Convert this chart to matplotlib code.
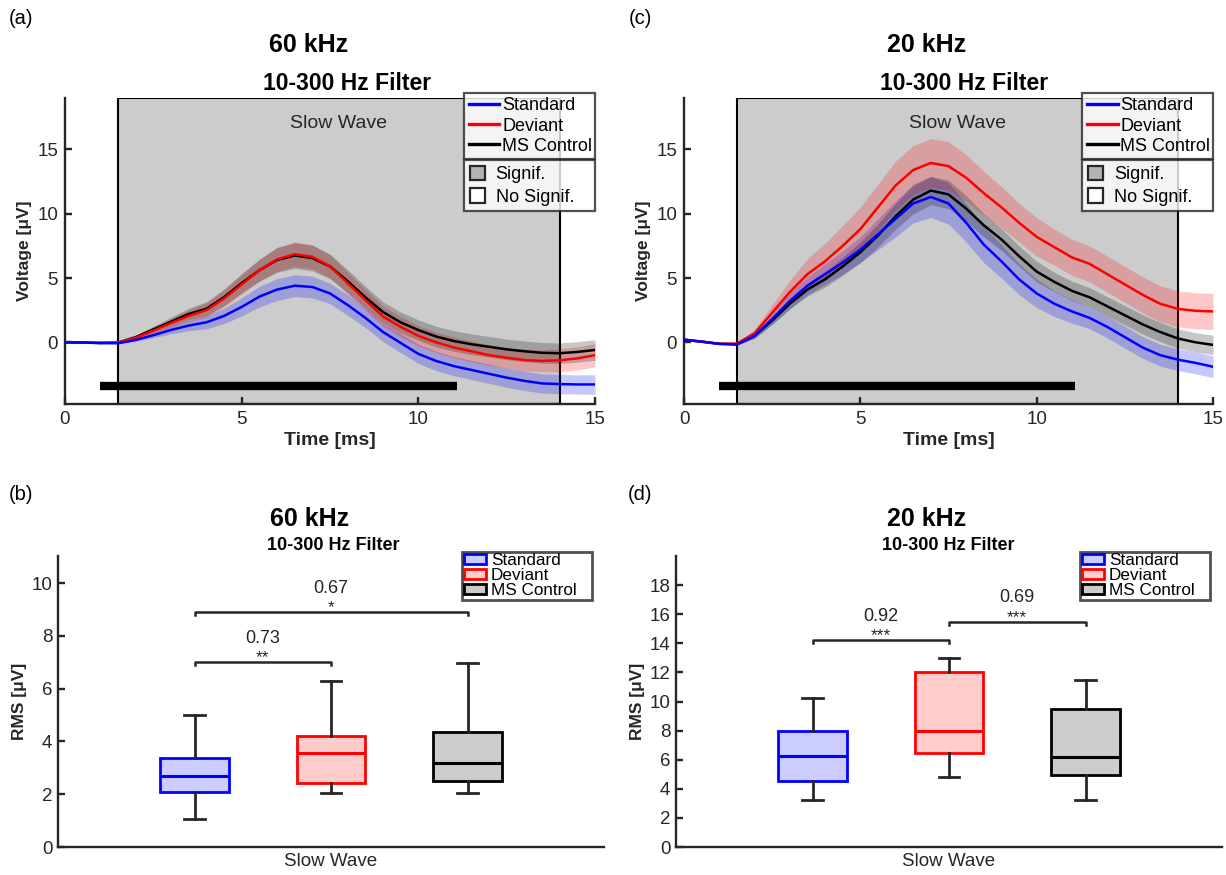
import matplotlib
matplotlib.use('Agg')
import matplotlib.pyplot as plt
from matplotlib.lines import Line2D
from matplotlib.patches import Patch
import numpy as np

plt.rcParams['font.family'] = ['Liberation Sans', 'DejaVu Sans']

# ==========================================
# DANE
# ==========================================
GROUPS = ['Standard', 'Deviant', 'MS Control']
LINE_COLORS = ['#0000ff', '#ff0000', '#000000']
BOX_FACES = ['#ccccff', '#ffcccc', '#cccccc']

# czas [ms], co 0.5 ms
t = np.arange(0, 15.01, 0.5)

# 60 kHz - srednia
std60 = [0, -0.02, -0.06, -0.08, 0.18, 0.55, 0.96, 1.3, 1.55, 2.05, 2.75, 3.55, 4.1, 4.4, 4.3, 3.8,
         2.9, 1.9, 0.8, -0.05, -0.9, -1.45, -1.85, -2.15, -2.45, -2.75, -3.0, -3.2, -3.25, -3.28, -3.28]
dev60 = [0, -0.02, -0.05, -0.02, 0.35, 0.9, 1.5, 2.05, 2.5, 3.4, 4.5, 5.6, 6.45, 6.85, 6.65, 5.9,
         4.6, 3.3, 2.0, 1.2, 0.5, 0.0, -0.4, -0.7, -1.0, -1.2, -1.38, -1.45, -1.4, -1.25, -1.0]
ms60 = [0, -0.02, -0.05, -0.02, 0.4, 1.0, 1.6, 2.2, 2.6, 3.5, 4.6, 5.6, 6.4, 6.75, 6.55, 5.9,
        4.75, 3.5, 2.35, 1.55, 0.95, 0.45, 0.1, -0.15, -0.35, -0.55, -0.7, -0.82, -0.85, -0.75, -0.6]
# 60 kHz - SEM
sem_std60 = [0, 0, 0, 0, 0.1, 0.2, 0.3, 0.4, 0.5, 0.6, 0.7, 0.8, 0.85, 0.85, 0.85, 0.8,
             0.8, 0.75, 0.75, 0.75, 0.75, 0.75, 0.75, 0.75, 0.75, 0.75, 0.75, 0.75, 0.75, 0.75, 0.75]
sem_dev60 = [0, 0, 0, 0.05, 0.15, 0.25, 0.35, 0.45, 0.55, 0.65, 0.75, 0.85, 0.95, 0.95, 0.95, 0.9,
             0.85, 0.8, 0.8, 0.8, 0.8, 0.8, 0.8, 0.8, 0.8, 0.8, 0.85, 0.85, 0.9, 0.9, 0.9]
sem_ms60 = [0, 0, 0, 0.05, 0.15, 0.25, 0.35, 0.45, 0.55, 0.65, 0.75, 0.85, 0.95, 1.0, 1.0, 0.95,
            0.9, 0.85, 0.8, 0.8, 0.8, 0.8, 0.8, 0.8, 0.8, 0.8, 0.8, 0.8, 0.8, 0.8, 0.8]

# 20 kHz - srednia
std20 = [0.2, 0.05, -0.12, -0.18, 0.5, 1.8, 3.2, 4.4, 5.3, 6.2, 7.2, 8.4, 9.6, 10.8, 11.3, 10.8,
         9.3, 7.6, 6.3, 4.9, 3.8, 3.0, 2.4, 1.9, 1.2, 0.4, -0.4, -1.0, -1.35, -1.6, -1.9]
dev20 = [0.2, 0.05, -0.12, -0.1, 0.7, 2.3, 3.9, 5.3, 6.3, 7.5, 8.8, 10.5, 12.2, 13.4, 13.95, 13.7,
         12.8, 11.6, 10.5, 9.3, 8.2, 7.4, 6.6, 6.1, 5.3, 4.5, 3.7, 3.0, 2.6, 2.45, 2.4]
ms20 = [0.2, 0.05, -0.12, -0.15, 0.5, 1.7, 3.0, 4.1, 4.9, 5.9, 7.0, 8.3, 9.8, 11.1, 11.8, 11.5,
        10.4, 9.1, 8.0, 6.7, 5.5, 4.7, 4.0, 3.5, 2.8, 2.1, 1.4, 0.8, 0.3, 0.0, -0.2]
# 20 kHz - SEM
sem_std20 = [0, 0, 0, 0.05, 0.2, 0.4, 0.6, 0.7, 0.8, 0.9, 1.0, 1.2, 1.4, 1.5, 1.6, 1.6,
             1.5, 1.4, 1.3, 1.2, 1.1, 1.0, 0.9, 0.85, 0.85, 0.85, 0.85, 0.85, 0.85, 0.85, 0.85]
sem_dev20 = [0, 0, 0, 0.05, 0.3, 0.6, 0.9, 1.2, 1.4, 1.6, 1.7, 1.8, 1.9, 1.9, 1.9, 1.9,
             1.8, 1.7, 1.6, 1.5, 1.5, 1.4, 1.4, 1.4, 1.4, 1.4, 1.4, 1.4, 1.4, 1.4, 1.4]
sem_ms20 = [0, 0, 0, 0.05, 0.2, 0.3, 0.4, 0.5, 0.6, 0.7, 0.8, 0.9, 1.0, 1.1, 1.1, 1.1,
            1.0, 0.9, 0.85, 0.8, 0.8, 0.75, 0.75, 0.75, 0.75, 0.75, 0.75, 0.75, 0.75, 0.75, 0.75]

# okno "Slow Wave" i pasek istotnosci
WINDOW = (1.5, 14.0)
SIG_BAR = (1.0, 11.1)
SIG_BAR_Y = -3.4

# boxploty RMS: (whislo, q1, med, q3, whishi)
box60 = [(1.07, 2.09, 2.68, 3.39, 5.02),
         (2.06, 2.44, 3.58, 4.21, 6.31),
         (2.06, 2.5, 3.2, 4.34, 6.99)]
box20 = [(3.23, 4.56, 6.26, 8.0, 10.27),
         (4.83, 6.49, 7.97, 12.05, 13.0),
         (3.23, 4.97, 6.2, 9.48, 11.48)]

# porownania: (grupa1, grupa2, wysokosc, efekt, gwiazdki)
comp60 = [(0, 1, 7.0, '0.73', '**'), (0, 2, 8.9, '0.67', '*')]
comp20 = [(0, 1, 14.2, '0.92', '***'), (1, 2, 15.47, '0.69', '***')]

DARK = '#262626'
W, H = 1226, 875


def px(x, y):
    return x / W, 1 - y / H


def style_axis(ax):
    for s in ['top', 'right']:
        ax.spines[s].set_visible(False)
    for s in ['left', 'bottom']:
        ax.spines[s].set_linewidth(1.7)
        ax.spines[s].set_color(DARK)
    ax.tick_params(direction='in', length=5, width=1.7, colors=DARK, labelsize=13.5, pad=5)


def draw_time(ax, means, sems):
    ax.axvspan(WINDOW[0], WINDOW[1], facecolor='#cccccc', edgecolor='black', lw=1.5, zorder=0)
    for m, s, c in zip(means, sems, LINE_COLORS):
        m = np.array(m)
        s = np.array(s)
        ax.fill_between(t, m - s, m + s, color=c, alpha=0.22, lw=0, zorder=1)
    for m, c in list(zip(means, LINE_COLORS))[::-1]:
        ax.plot(t, m, color=c, lw=1.8, zorder=3)
    ax.plot(SIG_BAR, [SIG_BAR_Y, SIG_BAR_Y], color='black', lw=6, solid_capstyle='butt', zorder=4)
    ax.text(sum(WINDOW) / 2, 17.0, 'Slow Wave', ha='center', va='center', fontsize=14, color=DARK)
    ax.set_xlim(0, 15)
    ax.set_ylim(-4.8, 19)
    ax.set_xticks([0, 5, 10, 15])
    ax.set_yticks([0, 5, 10, 15])
    style_axis(ax)
    ax.set_xlabel('Time [ms]', fontsize=14, fontweight='bold', color=DARK, labelpad=3)
    ax.set_ylabel('Voltage [μV]', fontsize=12.5, fontweight='bold', color=DARK, labelpad=4)

    h1 = [Line2D([], [], color=c, lw=2.4) for c in LINE_COLORS]
    leg1 = ax.legend(h1, GROUPS, loc='upper left', bbox_to_anchor=(0.753, 0, 0.247, 1.017),
                     mode='expand', fontsize=13, frameon=True, fancybox=False, edgecolor=DARK,
                     handlelength=1.7, handletextpad=0.15, borderpad=0.25, labelspacing=0.18,
                     borderaxespad=0)
    leg1.get_frame().set_linewidth(1.6)
    ax.add_artist(leg1)
    h2 = [Patch(facecolor='#b3b3b3', edgecolor=DARK, lw=1.6),
          Patch(facecolor='white', edgecolor=DARK, lw=1.6)]
    leg2 = ax.legend(h2, ['Signif.', 'No Signif.'], loc='upper left',
                     bbox_to_anchor=(0.753, 0, 0.247, 0.797), mode='expand', fontsize=13,
                     frameon=True, fancybox=False, edgecolor=DARK, handlelength=0.85,
                     handleheight=0.85, handletextpad=0.6, borderpad=0.3, labelspacing=0.3,
                     borderaxespad=0)
    leg2.get_frame().set_linewidth(1.6)


def draw_box(ax, boxes, comps, ylim, yticks):
    pos = [0.75, 1.0, 1.25]
    stats = [dict(whislo=b[0], q1=b[1], med=b[2], q3=b[3], whishi=b[4], fliers=[]) for b in boxes]
    bp = ax.bxp(stats, positions=pos, widths=0.125, capwidths=0.038, patch_artist=True,
                showfliers=False,
                whiskerprops=dict(color=DARK, lw=2), capprops=dict(color=DARK, lw=2),
                medianprops=dict(lw=2.2))
    for box, med, ec, fc in zip(bp['boxes'], bp['medians'], LINE_COLORS, BOX_FACES):
        box.set_facecolor(fc)
        box.set_edgecolor(ec)
        box.set_linewidth(2)
        med.set_color(ec)
    for g1, g2, y, eff, stars in comps:
        x1, x2 = pos[g1], pos[g2]
        d = (ylim[1] - ylim[0]) * 0.01
        ax.plot([x1, x1, x2, x2], [y - d, y, y, y - d], color=DARK, lw=1.8)
        xm = (x1 + x2) / 2
        ax.annotate(stars, (xm, y), xytext=(0, 0.0), textcoords='offset points',
                    ha='center', va='baseline', fontsize=12.5, color=DARK)
        ax.annotate(eff, (xm, y), xytext=(0, 14.0), textcoords='offset points',
                    ha='center', va='baseline', fontsize=13, color=DARK)
    ax.set_xlim(0.5, 1.5)
    ax.set_ylim(*ylim)
    ax.set_yticks(yticks)
    ax.set_xticks([1.0])
    ax.set_xticklabels(['Slow Wave'])
    style_axis(ax)
    ax.tick_params(axis='x', length=0, pad=4, labelsize=13.5)
    ax.tick_params(axis='y', pad=4)
    ax.set_ylabel('RMS [μV]', fontsize=12.5, fontweight='bold', color=DARK, labelpad=3)
    h = [Patch(facecolor=fc, edgecolor=ec, lw=2) for ec, fc in zip(LINE_COLORS, BOX_FACES)]
    leg = ax.legend(h, GROUPS, loc='upper left', bbox_to_anchor=(0.74, 0, 0.238, 1.015),
                    mode='expand', fontsize=12.3, frameon=True, fancybox=False, edgecolor=DARK,
                    handlelength=1.3, handleheight=0.55, handletextpad=0.3, borderpad=0.1,
                    labelspacing=0.0, borderaxespad=0)
    leg.get_frame().set_linewidth(2)


fig = plt.figure(figsize=(12.26, 8.75), dpi=100)

ax_a = fig.add_axes([65 / W, 1 - 404 / H, 530 / W, 306 / H])
ax_c = fig.add_axes([684 / W, 1 - 404 / H, 529 / W, 306 / H])
ax_b = fig.add_axes([58 / W, 1 - 847 / H, 546 / W, 291 / H])
ax_d = fig.add_axes([676 / W, 1 - 847 / H, 546 / W, 291 / H])

draw_time(ax_a, [std60, dev60, ms60], [sem_std60, sem_dev60, sem_ms60])
draw_time(ax_c, [std20, dev20, ms20], [sem_std20, sem_dev20, sem_ms20])
draw_box(ax_b, box60, comp60, (0, 11.03), [0, 2, 4, 6, 8, 10])
draw_box(ax_d, box20, comp20, (0, 20), list(range(0, 19, 2)))

# tytuly i etykiety paneli
for x, y, s in [(309, 45, '60 kHz'), (927, 45, '20 kHz'), (310, 519, '60 kHz'), (927, 519, '20 kHz')]:
    fig.text(*px(x, y), s, ha='center', va='center', fontsize=18, fontweight='bold')
for x, y, s in [(347, 84, 16.5), (964, 84, 16.5), (333, 545, 13), (948, 545, 13)]:
    fig.text(*px(x, y), '10-300 Hz Filter', ha='center', va='center', fontsize=s, fontweight='bold')
for x, y, s in [(21, 18, '(a)'), (21, 495, '(b)'), (640, 18, '(c)'), (640, 495, '(d)')]:
    fig.text(*px(x, y), s, ha='center', va='center', fontsize=14.5)

fig.savefig('out.png', dpi=100)
